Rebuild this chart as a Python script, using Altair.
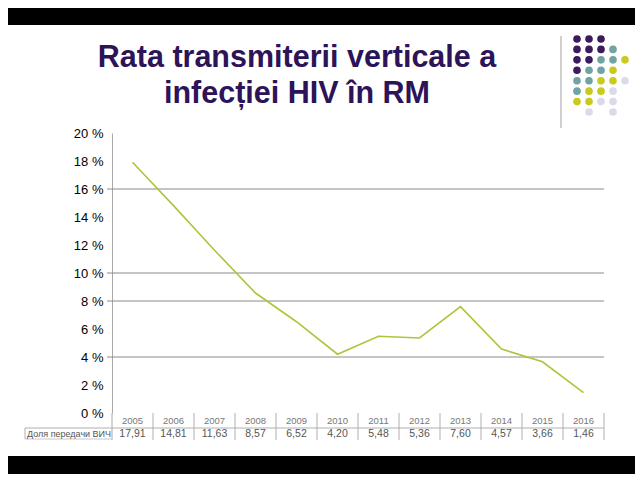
import altair as alt
import pandas as pd

# ---------------- data ----------------
years = ["2005", "2006", "2007", "2008", "2009", "2010",
         "2011", "2012", "2013", "2014", "2015", "2016"]
rates = [17.91, 14.81, 11.63, 8.57, 6.52, 4.20, 5.48, 5.36, 7.60, 4.57, 3.66, 1.46]
y_ticks = [0, 2, 4, 6, 8, 10, 12, 14, 16, 18, 20]
grid_values = [4, 8, 10, 16]
row_label = "Доля передачи ВИЧ"
title_lines = ["Rata transmiterii verticale a", "infecției HIV în RM"]
dot_rows = ["PPP", "PPPT", "PPTTY", "PTTY", "TTYYL", "TYYL", "YYLL", " L L"]
dot_colors = {"P": "#3b1a5f", "T": "#71a3a2", "Y": "#c9ca1e", "L": "#dadae8"}

# ---------------- geometry ----------------
W, H = 492, 280
PAD = {"left": 104, "top": 125, "right": 31, "bottom": 61}
FONT = "Liberation Sans"

df = pd.DataFrame({"year": years, "rate": rates})
df["label"] = [f"{v:.2f}".replace(".", ",") for v in rates]
one = pd.DataFrame({"k": [0]})

xs = alt.Scale(type="point", padding=0.5, domain=years)
ys = alt.Scale(domain=[0, 20], nice=False, zero=True)

# black bars (slide frame)
top_bar = alt.Chart(one).mark_rect(color="black").encode(
    x=alt.value(-PAD["left"]), x2=alt.value(W + PAD["right"]),
    y=alt.value(-PAD["top"]), y2=alt.value(-108))
bot_bar = alt.Chart(one).mark_rect(color="black").encode(
    x=alt.value(-PAD["left"]), x2=alt.value(W + PAD["right"]),
    y=alt.value(323), y2=alt.value(H + PAD["bottom"]))

# decorative dots
dots = []
for r, row in enumerate(dot_rows):
    for c, ch in enumerate(row):
        if ch.strip():
            dots.append({"col": c, "row": r, "hex": dot_colors[ch]})
dots_df = pd.DataFrame(dots)
dots_layer = alt.Chart(dots_df).mark_circle(size=58, opacity=1).encode(
    x=alt.X("col:Q", scale=alt.Scale(domain=[0, 4], range=[465, 513]), axis=None),
    y=alt.Y("row:Q", scale=alt.Scale(domain=[0, 7], range=[-94, -21]), axis=None),
    color=alt.Color("hex:N", scale=None))
deco_line = alt.Chart(one).mark_rule(color="#a0a0a0", strokeWidth=1).encode(
    x=alt.value(449), y=alt.value(-97), y2=alt.value(-5))

# title
title_df = pd.DataFrame({"t": title_lines, "i": [0, 1]})
title_layer = alt.Chart(title_df).mark_text(
    font=FONT, fontSize=30.5, fontWeight="bold", color="#2d1358",
    align="center", baseline="alphabetic").encode(
    text="t:N",
    x=alt.value(185),
    y=alt.Y("i:Q", scale=alt.Scale(domain=[0, 1], range=[-66, -30]), axis=None))

# grid lines
grid_df = pd.DataFrame({"g": grid_values})
grid_layer = alt.Chart(grid_df).mark_rule(color="#8a8a8a", strokeWidth=1).encode(
    y=alt.Y("g:Q", scale=ys, axis=None),
    x=alt.value(-5), x2=alt.value(W))

# main line with y axis
line_layer = alt.Chart(df).mark_line(color="#b0c43a", strokeWidth=1.6).encode(
    x=alt.X("year:N", scale=xs, axis=None),
    y=alt.Y("rate:Q", scale=ys, axis=alt.Axis(
        values=y_ticks, title=None, ticks=False, grid=False,
        labelExpr="datum.value + ' %'", labelFont=FONT, labelFontSize=13,
        labelColor="#000000", labelPadding=9, domainColor="#a8a8a8",
        domainWidth=1)))

# axis extension + table
axis_ext = alt.Chart(one).mark_rule(color="#a8a8a8").encode(
    x=alt.value(0), y=alt.value(H), y2=alt.value(307))
h_line = alt.Chart(one).mark_rule(color="#b0b0b0").encode(
    x=alt.value(-87), x2=alt.value(W), y=alt.value(295))
cell_left = alt.Chart(one).mark_rule(color="#b0b0b0").encode(
    x=alt.value(-87), y=alt.value(295), y2=alt.value(306))
cell_bottom = alt.Chart(one).mark_rule(color="#c8c8c8").encode(
    x=alt.value(-87), x2=alt.value(0), y=alt.value(306))
seps = alt.Chart(df).mark_rule(color="#b0b0b0", xOffset=20.5).encode(
    x=alt.X("year:N", scale=xs, axis=None),
    y=alt.value(H), y2=alt.value(307))
year_text = alt.Chart(df).mark_text(
    font=FONT, fontSize=9.5, color="#777777", baseline="middle").encode(
    x=alt.X("year:N", scale=xs, axis=None), y=alt.value(288), text="year:N")
val_text = alt.Chart(df).mark_text(
    font=FONT, fontSize=10.5, color="#555555", baseline="middle").encode(
    x=alt.X("year:N", scale=xs, axis=None), y=alt.value(301), text="label:N")
row_text = alt.Chart(one).mark_text(
    font=FONT, fontSize=9, color="#555555", baseline="middle", align="left").encode(
    x=alt.value(-85), y=alt.value(301), text=alt.value(row_label))

chart = alt.layer(
    top_bar, bot_bar, deco_line, dots_layer, title_layer,
    grid_layer, line_layer, axis_ext, h_line, cell_left, cell_bottom,
    seps, year_text, val_text, row_text
).resolve_scale(x="independent", y="independent").properties(
    width=W, height=H, padding=PAD,
    autosize=alt.AutoSizeParams(type="none"),
    background="white"
).configure_view(stroke=None)

chart.save("out.html", embed_options={"renderer": "svg", "actions": False})
